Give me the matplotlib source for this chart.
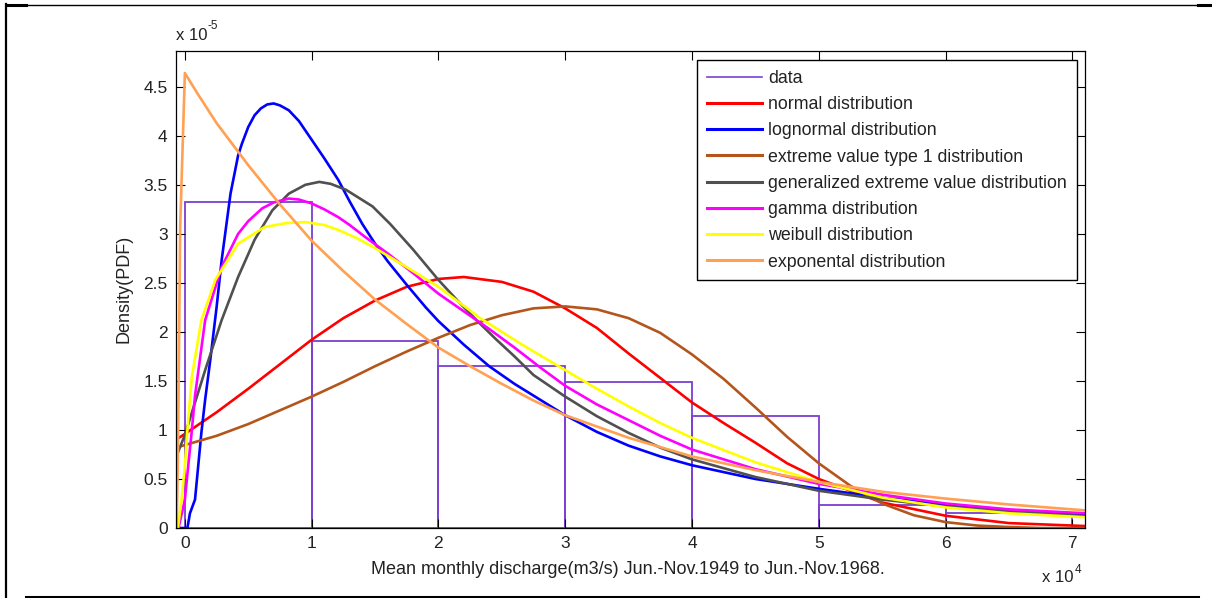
import matplotlib
matplotlib.use("Agg")
import matplotlib.pyplot as plt
from matplotlib.lines import Line2D

plt.rcParams['font.family'] = ['Liberation Sans', 'DejaVu Sans']

# histogram of observed data (x in 1e4 m3/s, density in 1e-5)
bin_left = [0, 1, 2, 3, 4, 5, 6]
hist_density = [3.32, 1.91, 1.655, 1.49, 1.145, 0.235, 0.15]

# fitted pdfs
normal_x = [-0.07, 0.0, 0.25, 0.5, 0.75, 1.0, 1.25, 1.5, 1.75, 2.0, 2.2, 2.5, 2.75, 3.0, 3.25, 3.5, 3.75, 4.0,
            4.25, 4.5, 4.75, 5.0, 5.5, 6.0, 6.5, 7.1]
normal_y = [0.90, 0.96, 1.18, 1.42, 1.67, 1.92, 2.14, 2.32, 2.46, 2.54, 2.56, 2.51, 2.41, 2.24, 2.04, 1.78, 1.53,
            1.28, 1.07, 0.87, 0.66, 0.50, 0.26, 0.125, 0.05, 0.02]

lognorm_x = [-0.07, 0.02, 0.04, 0.08, 0.105, 0.13, 0.16, 0.2, 0.25, 0.29, 0.36, 0.42, 0.45, 0.5, 0.55, 0.6, 0.65,
             0.7, 0.75, 0.82, 0.9, 1.0, 1.1, 1.21, 1.3, 1.4, 1.5, 1.6, 1.75, 1.9, 2.0, 2.2, 2.4, 2.6, 2.8, 3.0,
             3.25, 3.5, 3.75, 4.0, 4.5, 5.0, 5.5, 6.0, 6.5, 7.1]
lognorm_y = [0.0, 0.0, 0.15, 0.29, 0.63, 0.97, 1.31, 1.71, 2.25, 2.73, 3.41, 3.80, 3.92, 4.09, 4.21, 4.28, 4.32,
             4.33, 4.31, 4.26, 4.15, 3.96, 3.77, 3.55, 3.33, 3.10, 2.90, 2.72, 2.48, 2.25, 2.11, 1.87, 1.65, 1.47,
             1.31, 1.15, 0.98, 0.84, 0.73, 0.64, 0.50, 0.40, 0.31, 0.24, 0.18, 0.13]

ev1_x = [-0.07, 0.25, 0.5, 0.75, 1.0, 1.25, 1.5, 1.75, 2.0, 2.25, 2.5, 2.75, 3.0, 3.25, 3.5, 3.75, 4.0, 4.25,
         4.5, 4.75, 5.0, 5.25, 5.5, 5.75, 6.0, 6.25, 6.5, 6.75, 7.1]
ev1_y = [0.82, 0.94, 1.06, 1.20, 1.34, 1.49, 1.65, 1.80, 1.94, 2.07, 2.17, 2.24, 2.26, 2.23, 2.14, 1.99, 1.77,
         1.52, 1.23, 0.93, 0.66, 0.43, 0.25, 0.13, 0.06, 0.025, 0.01, 0.0, 0.0]

gev_x = [-0.07, 0.0, 0.08, 0.16, 0.29, 0.42, 0.55, 0.69, 0.82, 0.95, 1.06, 1.15, 1.27, 1.48, 1.62, 1.8, 2.0,
         2.15, 2.3, 2.45, 2.6, 2.75, 3.0, 3.25, 3.5, 3.75, 4.0, 4.5, 5.0, 5.5, 6.0, 6.5, 7.1]
gev_y = [0.72, 0.95, 1.28, 1.61, 2.12, 2.56, 2.94, 3.24, 3.41, 3.50, 3.53, 3.51, 3.45, 3.28, 3.10, 2.84, 2.53,
         2.32, 2.12, 1.93, 1.75, 1.56, 1.34, 1.14, 0.97, 0.82, 0.70, 0.52, 0.38, 0.29, 0.22, 0.17, 0.12]

gamma_x = [-0.05, 0.0, 0.026, 0.053, 0.08, 0.16, 0.29, 0.42, 0.5, 0.61, 0.7, 0.82, 0.9, 1.0, 1.1, 1.21, 1.3,
           1.42, 1.6, 1.8, 2.0, 2.2, 2.4, 2.6, 2.8, 3.0, 3.25, 3.5, 3.75, 4.0, 4.5, 5.0, 5.5, 6.0, 6.5, 7.1]
gamma_y = [0.0, 0.29, 0.63, 0.97, 1.35, 2.12, 2.66, 3.0, 3.13, 3.26, 3.32, 3.36, 3.35, 3.31, 3.25, 3.17, 3.09,
           2.97, 2.80, 2.60, 2.39, 2.21, 2.03, 1.84, 1.64, 1.45, 1.26, 1.10, 0.94, 0.80, 0.60, 0.45, 0.34,
           0.25, 0.19, 0.15]

weibull_x = [-0.055, -0.026, 0.0, 0.018, 0.04, 0.055, 0.13, 0.24, 0.42, 0.63, 0.8, 0.95, 1.1, 1.21, 1.35, 1.48,
             1.75, 2.0, 2.33, 2.66, 3.0, 3.25, 3.5, 3.75, 4.0, 4.5, 5.0, 5.5, 6.0, 6.5, 7.1]
weibull_y = [0.0, 0.29, 0.63, 0.97, 1.31, 1.54, 2.12, 2.53, 2.90, 3.07, 3.11, 3.12, 3.09, 3.04, 2.96, 2.87,
             2.66, 2.46, 2.14, 1.87, 1.61, 1.42, 1.24, 1.07, 0.92, 0.67, 0.47, 0.31, 0.21, 0.15, 0.11]

expo_x = [-0.065, -0.055, -0.037, 0.0, 0.1, 0.25, 0.5, 0.75, 1.0, 1.25, 1.5, 1.75, 2.0, 2.25, 2.5, 2.75, 3.0,
          3.5, 4.0, 4.5, 5.0, 5.5, 6.0, 6.5, 7.0, 7.1]
expo_y = [0.0, 0.7, 3.07, 4.64, 4.43, 4.13, 3.70, 3.30, 2.93, 2.62, 2.33, 2.08, 1.84, 1.65, 1.47, 1.30, 1.15,
          0.92, 0.73, 0.59, 0.47, 0.37, 0.30, 0.24, 0.19, 0.18]

labels = ["data", "normal distribution", "lognormal distribution",
          "extreme value type 1 distribution", "generalized extreme value distribution",
          "gamma distribution", "weibull distribution", "exponental distribution"]
colors = ["#7b3fd2", "#ff0000", "#0000ff", "#b4561c", "#505050", "#ff00ff", "#ffff00", "#ffa052"]

W, H = 1212, 598
fig = plt.figure(figsize=(W / 100, H / 100), dpi=100)
ax = fig.add_axes([176 / W, 1 - 528 / H, (1085 - 176) / W, (528 - 50.5) / H])

ax.bar(bin_left, hist_density, width=1, align='edge', fill=False,
       edgecolor=colors[0], linewidth=1.3, label=labels[0])
curves = [(normal_x, normal_y), (lognorm_x, lognorm_y), (ev1_x, ev1_y), (gev_x, gev_y),
          (gamma_x, gamma_y), (weibull_x, weibull_y), (expo_x, expo_y)]
for (cx, cy), c, lab in zip(curves, colors[1:], labels[1:]):
    ax.plot(cx, cy, color=c, lw=1.9, label=lab, solid_joinstyle='round')

ax.set_xlim(-0.07, 7.1)
ax.set_ylim(0, 4.87)
ax.set_xticks(range(8))
ax.set_yticks([i * 0.5 for i in range(10)])
ax.set_yticklabels(["0", "0.5", "1", "1.5", "2", "2.5", "3", "3.5", "4", "4.5"])
ax.tick_params(direction='in', length=6.5, width=0.8, top=True, right=True,
               labelsize=12.5, labelcolor='#222222')
ax.tick_params(axis='x', pad=6)
ax.tick_params(axis='y', pad=6)
for s in ax.spines.values():
    s.set_linewidth(0.9)

handles = [Line2D([], [], color=colors[0], lw=1.2)] + \
          [Line2D([], [], color=c, lw=2.2) for c in colors[1:]]
leg = ax.legend(handles, labels, loc='upper right', bbox_to_anchor=(0.991, 0.980),
                fontsize=12.8, frameon=True, fancybox=False, edgecolor='black',
                framealpha=1, handlelength=3.1, handletextpad=0.35,
                labelspacing=0.52, borderpad=0.55, borderaxespad=0)
leg.get_frame().set_linewidth(1.0)
for t in leg.get_texts():
    t.set_color('#222222')

def fx(p):
    return p / W

def fy(p):
    return 1 - p / H

fig.text(fx(628), fy(569), "Mean monthly discharge(m3/s) Jun.-Nov.1949 to Jun.-Nov.1968.",
         ha='center', va='center', fontsize=13, color='#222222')
fig.text(fx(124), fy(289), "Density(PDF)", rotation=90, ha='center', va='center',
         fontsize=13, color='#222222')
fig.text(fx(176), fy(36), "x 10", ha='left', va='center', fontsize=12, color='#222222')
fig.text(fx(208), fy(26), "-5", ha='left', va='center', fontsize=8.5, color='#222222')
fig.text(fx(1042), fy(578), "x 10", ha='left', va='center', fontsize=12, color='#222222')
fig.text(fx(1075), fy(570), "4", ha='left', va='center', fontsize=8.5, color='#222222')

# page frame around the figure
frame = [((7, 4.5), (1212, 4.5), 1.0), ((7, 5), (26, 5), 2.2), ((1198, 5), (1212, 5), 2.2),
         ((6, 4), (6, 598), 1.6), ((26, 596.5), (1198, 596.5), 2.2)]
for (x0, y0), (x1, y1), lw in frame:
    fig.add_artist(Line2D([fx(x0), fx(x1)], [fy(y0), fy(y1)], color='black', lw=lw,
                          transform=fig.transFigure))

fig.savefig("out.png", dpi=100)
